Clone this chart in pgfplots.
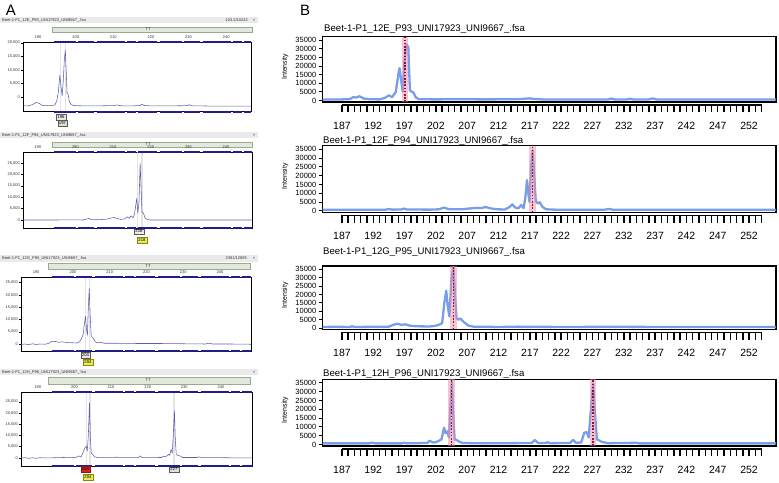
\documentclass[border=0pt]{standalone}
\usepackage{fontspec}
\setmainfont{Liberation Sans}
\usepackage{pgfplots}
\pgfplotsset{compat=1.18}
\definecolor{bblue}{RGB}{105,148,232}
\definecolor{dotred}{RGB}{135,20,65}
\definecolor{bandpink}{RGB}{240,140,165}
\definecolor{atrace}{RGB}{95,95,175}
\definecolor{anavy}{RGB}{30,30,140}
\definecolor{tbar}{RGB}{234,234,234}
\definecolor{gbar}{RGB}{226,232,220}
\definecolor{gbard}{RGB}{150,172,140}
\definecolor{ayellow}{RGB}{228,236,96}
\definecolor{ared}{RGB}{210,35,35}
\definecolor{agreen}{RGB}{214,226,204}
\pgfplotsset{
 Bmain/.style={scale only axis, width=453.5pt, anchor=north west, xmin=183.9, xmax=256.3, ymin=-800, ymax=37000,
   xtick=\empty, ytick={0,5000,...,35000}, ytick pos=left, tick align=outside, major tick length=4pt,
   tick style={black, line width=1pt}, axis line style={line width=1.3pt}, scaled y ticks=false,
   yticklabel style={font=\fontsize{7.5}{8}\selectfont, inner sep=2pt},
   /pgf/number format/assume math mode=true, /pgf/number format/1000 sep={},
   every axis y label/.style={at={(axis description cs:-0.0827,0.54)}, rotate=90, anchor=center, font=\fontsize{7}{8}\selectfont},
   ylabel={Intensity}},
 Bticks/.style={scale only axis, width=453.5pt, height=1pt, anchor=south west, xmin=183.9, xmax=256.3, ymin=0, ymax=1,
   hide y axis, axis x line*=bottom, axis line style={draw=none}, tick align=outside,
   xtick={187,192,...,252}, minor xtick={187,...,254}, major tick length=7.5pt, minor tick length=7.5pt,
   tick style={black, line width=1.4pt}, minor tick style={black, line width=1.4pt},
   xticklabel style={font=\fontsize{10.5}{12}\selectfont, yshift=-6pt},
   /pgf/number format/assume math mode=true, /pgf/number format/1000 sep={}, clip=false},
 Btrace/.style={draw=bblue, line width=2.3pt, line join=round, opacity=0.9},
 Amain/.style={scale only axis, anchor=north west, xtick={190,200,...,240}, xticklabel pos=right,
   major x tick style={draw=none}, ytick pos=left, tick align=outside, major tick length=2pt,
   tick style={black, line width=0.4pt}, axis line style={line width=0.6pt}, scaled y ticks=false,
   ticklabel style={font=\fontsize{4}{5}\selectfont, text=black!80}, yticklabel style={inner sep=1pt}, xticklabel style={inner sep=1pt},
   /pgf/number format/assume math mode=true, /pgf/number format/1000 sep={,}, clip=false},
 Atrace/.style={draw=atrace, line width=0.55pt, line join=round},
}
\tikzset{
 Bband/.style={fill=bandpink, opacity=0.5},
 Bdot/.style={draw=dotred, line width=1.6pt, dash pattern=on 1.6pt off 1.6pt},
 Aband/.style={fill=gray!30, opacity=0.7},
 Adash/.style={draw=anavy, line width=2pt, dash pattern=on 22pt off 2pt on 16pt off 3pt on 28pt off 2pt on 9pt off 2pt on 19pt off 3pt},
 alab/.style={font=\fontsize{4.2}{5}\selectfont, inner sep=0.6pt, minimum width=9.5pt, minimum height=5.5pt, line width=0.4pt},
 tbtxt/.style={font=\fontsize{4}{5}\selectfont, text=black!80, inner sep=0pt},
}
\begin{document}
\begin{tikzpicture}
% ---------------- Panel letters
\node[font=\fontsize{15}{15}\selectfont, inner sep=0pt, anchor=base] at (11pt,466.5pt) {A};
\node[font=\fontsize{15}{15}\selectfont, inner sep=0pt, anchor=base] at (305pt,466.5pt) {B};

% ---------------- Panel A decorations
\fill[tbar] (0pt,459pt) rectangle (258pt,465pt);
\node[tbtxt, anchor=west] at (2pt,462pt) {Beet-1-P1\_12E\_P93\_UNI17923\_UNI9667\_.fsa};
\node[tbtxt, anchor=east] at (248pt,462pt) {103.2/10242};
\node[tbtxt] at (254pt,462pt) {×};
\filldraw[fill=gbar, draw=gbard, line width=0.4pt] (52pt,450pt) rectangle (252pt,455pt);
\node[tbtxt] at (148pt,452.5pt) {TT};

\fill[tbar] (0pt,344pt) rectangle (258pt,350pt);
\node[tbtxt, anchor=west] at (2pt,347pt) {Beet-1-P1\_12F\_P94\_UNI17923\_UNI9667\_.fsa};
\node[tbtxt] at (254pt,347pt) {×};
\filldraw[fill=gbar, draw=gbard, line width=0.4pt] (52pt,335pt) rectangle (252pt,340pt);
\node[tbtxt] at (148pt,337.5pt) {TT};

\fill[tbar] (0pt,220pt) rectangle (258pt,227pt);
\node[tbtxt, anchor=west] at (2pt,223.5pt) {Beet-1-P1\_12G\_P95\_UNI17923\_UNI9667\_.fsa};
\node[tbtxt, anchor=east] at (247pt,223.5pt) {2381/12895};
\node[tbtxt] at (254pt,223.5pt) {×};
\filldraw[fill=gbar, draw=gbard, line width=0.4pt] (48pt,213pt) rectangle (250pt,219pt);
\node[tbtxt] at (148pt,216pt) {TT};

\fill[tbar] (0pt,107pt) rectangle (258pt,113pt);
\node[tbtxt, anchor=west] at (2pt,110pt) {Beet-1-P1\_12H\_P96\_UNI17923\_UNI9667\_.fsa};
\node[tbtxt] at (254pt,110pt) {×};
\filldraw[fill=gbar, draw=gbard, line width=0.4pt] (48pt,98pt) rectangle (250pt,105pt);
\node[tbtxt] at (148pt,101.5pt) {TT};

% ---------------- A1
\begin{axis}[Amain, at={(23pt,440pt)}, width=228pt, height=69.7pt, xmin=186.0, xmax=246.6, ymin=-5275, ymax=20260, ytick={0,5000,...,20000}]
\fill[Aband] (axis cs:195.8,-5275) rectangle (axis cs:196.2,20260);
\fill[Aband] (axis cs:197.1,-5275) rectangle (axis cs:197.5,20260);
\addplot[Atrace] coordinates {(186,-3150) (187.5,-3100) (188.5,-2700) (189.5,-1900) (190.3,-2200) (191,-2900) (192,-3100) (193.5,-3050) (194.5,-2800) (195,-1200) (195.4,2000) (195.8,8200) (196.1,4000) (196.4,500) (196.7,6000) (197.0,14000) (197.25,17300) (197.5,9000) (197.7,1500) (198.0,1200) (198.3,-1500) (198.8,-2700) (199.5,-3000) (201,-3100) (205,-3150) (210,-3050) (211,-2800) (212,-3100) (215,-3150) (217.2,-3000) (217.6,-2500) (218.2,-3000) (220,-3150) (225,-3150) (229.7,-3050) (230.2,-2700) (230.8,-3100) (235,-3200) (240,-3200) (246.6,-3200)};
\draw[Adash] (axis cs:194.3,20260) -- (axis cs:246.6,20260);
\draw[Adash] (axis cs:194.3,-5275) -- (axis cs:246.6,-5275);
\end{axis}
\node[alab, fill=gray!20, draw=gray!70!black] at (61pt,365pt) {196};
\node[alab, fill=agreen, draw=gray!70!black] at (62.5pt,359pt) {197};

% ---------------- A2
\begin{axis}[Amain, at={(23pt,330pt)}, width=229pt, height=76pt, xmin=186.1, xmax=246.9, ymin=-3500, ymax=29800, ytick={0,5000,...,25000}]
\fill[Aband] (axis cs:216.3,-3500) rectangle (axis cs:216.7,29800);
\fill[Aband] (axis cs:217.5,-3500) rectangle (axis cs:217.9,29800);
\addplot[Atrace] coordinates {(186.1,0) (195,0) (199,100) (202,0) (203.6,700) (204.2,200) (206,100) (208.5,400) (209.5,900) (210.3,1100) (211,700) (212,300) (213,400) (213.8,1400) (214.3,700) (214.8,1800) (215.3,1000) (215.7,2500) (216.0,6000) (216.3,9500) (216.6,3000) (216.9,8000) (217.2,25000) (217.45,14000) (217.7,3500) (218.1,3000) (218.5,800) (219.2,200) (220,0) (230,0) (246.9,0)};
\draw[Adash] (axis cs:194.3,29800) -- (axis cs:246.9,29800);
\draw[Adash] (axis cs:194.3,-3500) -- (axis cs:246.9,-3500);
\end{axis}
\node[alab, fill=gray!15, draw=gray!70!black] at (139pt,250.5pt) {216};
\node[alab, fill=ayellow, draw=olive] at (142pt,242pt) {218};

% ---------------- A3
\begin{axis}[Amain, at={(21pt,205pt)}, width=230pt, height=74pt, xmin=185.9, xmax=248.4, ymin=-2850, ymax=27300, ytick={0,5000,...,25000}]
\fill[Aband] (axis cs:203.2,-2850) rectangle (axis cs:203.6,27300);
\fill[Aband] (axis cs:204.3,-2850) rectangle (axis cs:204.7,27300);
\addplot[Atrace] coordinates {(185.9,-200) (187,0) (188,-300) (189,100) (190,-200) (191,0) (192.5,-100) (193.5,300) (194.2,1100) (195.3,1000) (196.2,700) (197,900) (198.5,600) (200,500) (201.2,400) (201.8,900) (202.3,2000) (202.8,4000) (203.2,9000) (203.45,11300) (203.7,6000) (203.95,3500) (204.2,15000) (204.45,22600) (204.7,12000) (204.95,3500) (205.3,2600) (205.6,2300) (206.0,1000) (206.6,500) (207.6,700) (208.5,300) (212,300) (218,200) (224,200) (230,100) (236,0) (237,300) (238,0) (243,0) (248.4,-100)};
\draw[Adash] (axis cs:194.3,27300) -- (axis cs:248.4,27300);
\draw[Adash] (axis cs:194.3,-2850) -- (axis cs:248.4,-2850);
\end{axis}
\node[alab, fill=gray!20, draw=gray!70!black] at (85.5pt,127pt) {203};
\node[alab, fill=ayellow, draw=olive] at (88pt,120pt) {204};

% ---------------- A4
\begin{axis}[Amain, at={(21pt,90pt)}, width=231pt, height=74pt, xmin=185.4, xmax=248.5, ymin=-3700, ymax=29330, ytick={0,5000,...,25000}]
\fill[Aband] (axis cs:203.1,-3700) rectangle (axis cs:203.5,29330);
\fill[Aband] (axis cs:204.0,-3700) rectangle (axis cs:204.4,29330);
\fill[Aband] (axis cs:227.0,-3700) rectangle (axis cs:227.5,29330);
\addplot[Atrace] coordinates {(185.4,-100) (186.5,0) (187.5,-300) (188.5,0) (189.5,-300) (190.5,0) (192,-100) (195,0) (197,100) (199,0) (200.5,200) (201.2,800) (201.8,300) (202.4,2500) (202.9,4500) (203.2,5200) (203.5,3000) (203.8,10000) (204.1,24500) (204.35,9000) (204.6,2000) (205.0,1500) (205.5,400) (206.5,0) (211.2,0) (211.6,400) (212.0,0) (217.5,0) (218,800) (218.5,0) (223.8,100) (224.3,700) (224.8,300) (225.4,1000) (225.7,1500) (226.0,1000) (226.4,3700) (226.7,2000) (227.0,10000) (227.3,21000) (227.55,8000) (227.8,1800) (228.2,1000) (228.9,800) (229.5,100) (233.5,100) (234,400) (235,0) (240,0) (248.5,-100)};
\draw[Adash] (axis cs:193.8,29330) -- (axis cs:248.5,29330);
\draw[Adash] (axis cs:193.8,-3700) -- (axis cs:248.5,-3700);
\end{axis}
\node[alab, fill=ared, draw=ared!70!black] at (85.5pt,13pt) {203};
\node[alab, fill=ayellow, draw=olive] at (88pt,5pt) {204};
\node[alab, fill=gray!25, draw=gray!70!black] at (174pt,12.5pt) {227};

% ---------------- B1
\begin{axis}[Bmain, at={(322.5pt,445.3pt)}, height=65.3pt]
\addplot[Btrace] coordinates {(183.9,700) (187,700) (188.3,900) (188.8,2000) (189.3,1800) (189.8,2500) (190.5,1200) (191.5,800) (193,700) (193.8,1500) (194.5,3000) (195.0,2000) (195.6,5000) (196.0,15000) (196.2,18800) (196.45,12000) (196.7,5200) (197.0,24000) (197.3,32500) (197.6,31000) (197.85,6000) (198.1,5200) (198.4,4800) (198.8,1800) (199.3,800) (202,700) (205,800) (210,700) (215,800) (217,1300) (217.5,1000) (219,700) (224,700) (229.5,700) (230,1200) (230.5,700) (232.5,700) (233,1100) (233.5,700) (236,700) (236.6,1300) (237.2,700) (245,700) (256.3,700)};
\fill[Bband] (axis cs:196.6,-800) rectangle (axis cs:197.6,37000);
\draw[Bdot] (axis cs:197.1,-800) -- (axis cs:197.1,37000);
\end{axis}
\begin{axis}[Bticks, at={(322.5pt,377pt)}]
\addplot[draw=none] coordinates {(187,0)};
\draw[line width=1.4pt] (axis cs:187,0) -- (axis cs:254,0);
\end{axis}
\node[anchor=base west, font=\fontsize{9.6}{11}\selectfont, inner sep=0pt] at (324pt,450pt) {Beet-1-P1\_12E\_P93\_UNI17923\_UNI9667\_.fsa};

% ---------------- B2
\begin{axis}[Bmain, at={(322.5pt,336.3pt)}, height=66.6pt]
\addplot[Btrace] coordinates {(183.9,700) (190,700) (194,700) (194.5,1100) (195,700) (196.5,800) (196.9,1300) (197.4,800) (201,700) (202.5,900) (203.3,1900) (204,1000) (206,900) (207.5,1400) (208.5,1700) (209.2,1600) (210,2200) (210.6,1500) (211.8,900) (213,800) (213.7,2000) (214.2,3700) (214.7,1800) (215.2,1500) (215.6,3300) (216.0,1600) (216.3,8000) (216.55,17500) (216.8,9000) (216.95,5000) (217.2,25000) (217.45,34400) (217.7,20000) (217.95,5500) (218.3,4200) (218.6,4900) (219.0,2300) (219.6,900) (221,700) (229,700) (229.6,1100) (230.2,700) (240,700) (256.3,700)};
\fill[Bband] (axis cs:216.9,-800) rectangle (axis cs:218.0,37000);
\draw[Bdot] (axis cs:217.45,-800) -- (axis cs:217.45,37000);
\end{axis}
\begin{axis}[Bticks, at={(322.5pt,266.7pt)}]
\addplot[draw=none] coordinates {(187,0)};
\draw[line width=1.4pt] (axis cs:187,0) -- (axis cs:254,0);
\end{axis}
\node[anchor=base west, font=\fontsize{9.6}{11}\selectfont, inner sep=0pt] at (323pt,338.8pt) {Beet-1-P1\_12F\_P94\_UNI17923\_UNI9667\_.fsa};

% ---------------- B3
\begin{axis}[Bmain, at={(322.5pt,216pt)}, height=63.5pt]
\addplot[Btrace] coordinates {(183.9,700) (186,800) (188.3,700) (188.6,1100) (189,700) (194.5,900) (195.2,2000) (195.8,2600) (196.5,2000) (197.1,2300) (197.8,1500) (199,1100) (201,1000) (201.8,1300) (202.5,2000) (203,3000) (203.35,15000) (203.65,22300) (203.9,13000) (204.15,7000) (204.5,30000) (204.8,36300) (205.05,20000) (205.3,6000) (205.6,5000) (205.9,5800) (206.5,3500) (207.2,1500) (208,900) (212,700) (215,900) (222,700) (230,800) (240,700) (256.3,700)};
\fill[Bband] (axis cs:204.3,-800) rectangle (axis cs:205.3,37000);
\draw[Bdot] (axis cs:204.8,-800) -- (axis cs:204.8,37000);
\end{axis}
\begin{axis}[Bticks, at={(322.5pt,149.5pt)}]
\addplot[draw=none] coordinates {(187,0)};
\draw[line width=1.4pt] (axis cs:187,0) -- (axis cs:254,0);
\end{axis}
\node[anchor=base west, font=\fontsize{9.6}{11}\selectfont, inner sep=0pt] at (323pt,227.7pt) {Beet-1-P1\_12G\_P95\_UNI17923\_UNI9667\_.fsa};

% ---------------- B4
\begin{axis}[Bmain, at={(322.5pt,102.7pt)}, height=66.7pt]
\addplot[Btrace] coordinates {(183.9,700) (191.4,700) (191.8,1100) (192.3,700) (196.6,700) (196.9,1100) (197.3,700) (200.6,900) (201,2200) (201.5,1200) (202,1300) (202.4,2000) (202.9,3000) (203.3,9600) (203.55,6500) (203.8,7500) (204.1,4000) (204.3,20000) (204.55,36000) (204.8,15000) (205.0,3000) (205.4,2400) (205.8,1500) (206.3,900) (210,700) (217.3,900) (217.8,2600) (218.3,900) (219.5,900) (219.8,1300) (220.2,800) (223.4,900) (223.9,2700) (224.4,1000) (225.2,1200) (225.7,6800) (226.1,7000) (226.4,4000) (226.75,20000) (227.1,34500) (227.4,18000) (227.7,3000) (228.0,2500) (228.5,1500) (229.5,800) (234,1000) (234.5,700) (256.3,700)};
\fill[Bband] (axis cs:204.0,-800) rectangle (axis cs:205.0,37000);
\draw[Bdot] (axis cs:204.5,-800) -- (axis cs:204.5,37000);
\fill[Bband] (axis cs:226.6,-800) rectangle (axis cs:227.6,37000);
\draw[Bdot] (axis cs:227.1,-800) -- (axis cs:227.1,37000);
\end{axis}
\begin{axis}[Bticks, at={(322.5pt,33pt)}]
\addplot[draw=none] coordinates {(187,0)};
\draw[line width=1.4pt] (axis cs:187,0) -- (axis cs:254,0);
\end{axis}
\node[anchor=base west, font=\fontsize{9.6}{11}\selectfont, inner sep=0pt] at (323pt,105.4pt) {Beet-1-P1\_12H\_P96\_UNI17923\_UNI9667\_.fsa};

\pgfresetboundingbox
\useasboundingbox (0pt,0pt) rectangle (779pt,482pt);
\end{tikzpicture}
\end{document}
